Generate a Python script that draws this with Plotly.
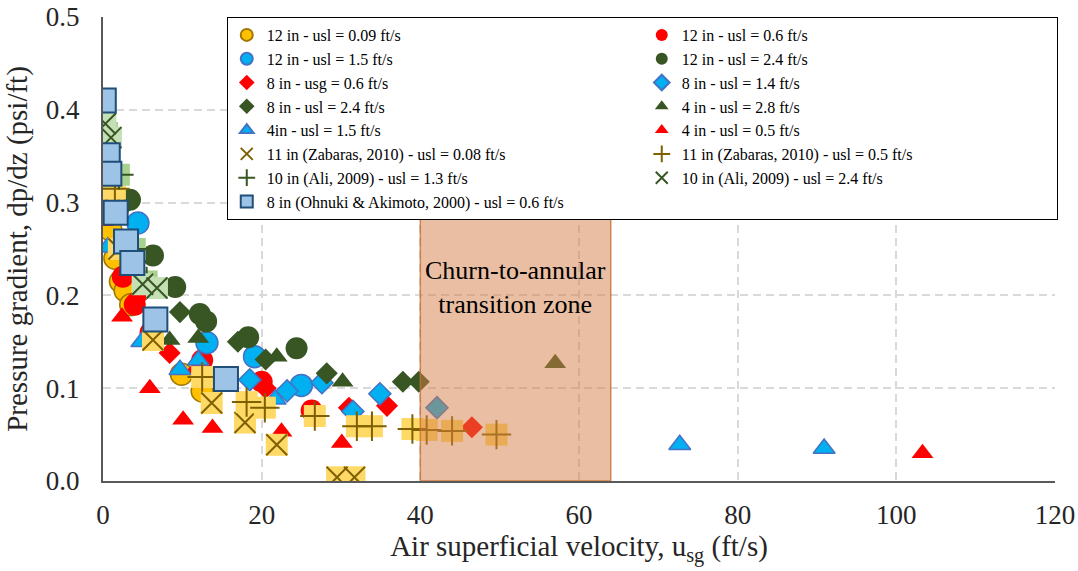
import plotly.graph_objects as go

# ---------------- data ----------------
s1_name = "12 in - usl = 0.09 ft/s"
s1_x = [0.5, 1.0, 1.5, 2.2, 2.8, 3.5, 9.9, 12.5]
s1_y = [0.32, 0.27, 0.24, 0.215, 0.205, 0.19, 0.115, 0.097]

s2_name = "12 in - usl = 0.6 ft/s"
s2_x = [2.5, 4.0, 6.0, 12.5, 20.0, 26.3]
s2_y = [0.22, 0.19, 0.16, 0.13, 0.107, 0.076]

s3_name = "12 in - usl = 1.5 ft/s"
s3_x = [2.0, 4.4, 13.1, 19.1, 25.0]
s3_y = [0.30, 0.278, 0.149, 0.134, 0.103]

s4_name = "12 in - usl = 2.4 ft/s"
s4_x = [1.5, 3.4, 6.3, 9.1, 12.2, 13.0, 18.3, 24.4]
s4_y = [0.33, 0.303, 0.243, 0.209, 0.18, 0.172, 0.155, 0.143]

s5_name = "8 in - usg = 0.6 ft/s"
s5_x = [4.4, 8.4, 12.0, 20.5, 31.0, 35.8, 46.5]
s5_y = [0.198, 0.138, 0.12, 0.1, 0.079, 0.081, 0.058]

s6_name = "8 in - usl = 1.4 ft/s"
s6_x = [18.5, 23.2, 27.6, 31.5, 34.9, 42.1]
s6_y = [0.109, 0.097, 0.106, 0.075, 0.094, 0.079]

s7_name = "8 in - usl = 2.4 ft/s"
s7_x = [3.0, 9.7, 17.0, 20.5, 28.2, 37.8, 39.8]
s7_y = [0.30, 0.182, 0.15, 0.131, 0.116, 0.107, 0.107]

s8_name = "4 in - usl = 2.8 ft/s"
s8_x = [8.4, 12.0, 21.9, 30.2, 57.0]
s8_y = [0.152, 0.154, 0.134, 0.107, 0.127]

s9_name = "4in - usl = 1.5 ft/s"
s9_x = [0.6, 4.9, 9.7, 12.0, 21.7, 72.7, 90.9]
s9_y = [0.252, 0.15, 0.12, 0.13, 0.088, 0.039, 0.035]

s10_name = "4 in - usl = 0.5 ft/s"
s10_x = [0.0, 2.4, 5.9, 10.1, 13.8, 22.5, 30.1, 103.3]
s10_y = [0.28, 0.177, 0.1, 0.066, 0.057, 0.053, 0.041, 0.03]

s11_name = "11 in (Zabaras, 2010) - usl = 0.08 ft/s"
s11_x = [1.2, 2.0, 6.3, 13.7, 17.9, 21.9, 29.5, 31.7]
s11_y = [0.31, 0.25, 0.152, 0.084, 0.063, 0.039, 0.004, 0.004]

s12_name = "11 in (Zabaras, 2010) - usl = 0.5 ft/s"
s12_x = [1.5, 12.5, 18.1, 20.4, 26.7, 32.0, 33.9, 39.0, 40.8, 44.0, 49.6]
s12_y = [0.315, 0.112, 0.085, 0.079, 0.07, 0.059, 0.059, 0.056, 0.055, 0.054, 0.05]

s13_name = "10 in (Ali, 2009) - usl = 1.3 ft/s"
s13_x = [0.5, 2.0, 4.0, 5.5]
s13_y = [0.375, 0.33, 0.25, 0.215]

s14_name = "10 in (Ali, 2009) - usl = 2.4 ft/s"
s14_x = [0.3, 1.0, 5.0, 6.8]
s14_y = [0.385, 0.37, 0.212, 0.208]

s15_name = "8 in (Ohnuki & Akimoto, 2000) - usl = 0.6 ft/s"
s15_x = [0.1, 0.6, 0.8, 1.6, 2.9, 3.7, 6.6, 15.5]
s15_y = [0.41, 0.351, 0.331, 0.289, 0.258, 0.235, 0.174, 0.11]

x_ticks = [0, 20, 40, 60, 80, 100, 120]
y_ticks = [0.0, 0.1, 0.2, 0.3, 0.4, 0.5]

zone_x = [40, 64]
zone_top = 0.29
zone_label = "Churn-to-annular<br>transition zone"

SERIF = "Liberation Serif, Times New Roman, serif"

# ---------------- figure ----------------
fig = go.Figure()

def simple(name, xs, ys, symbol, size, fill, line, lw):
    fig.add_trace(go.Scatter(
        x=xs, y=ys, mode="markers", name=name,
        marker=dict(symbol=symbol, size=size, color=fill,
                    line=dict(color=line, width=lw))))

def hatched(name, xs, ys, fill, inner, mark):
    fig.add_trace(go.Scatter(
        x=xs, y=ys, mode="markers", name=name, showlegend=False,
        legendgroup=name,
        marker=dict(symbol="square", size=22, color=fill,
                    line=dict(width=0))))
    fig.add_trace(go.Scatter(
        x=xs, y=ys, mode="markers", name=name, legendgroup=name,
        marker=dict(symbol=mark, size=21, color=inner,
                    line=dict(color=inner, width=2))))

simple(s1_name, s1_x, s1_y, "circle", 22, "#FFC000", "#A07800", 1.5)
simple(s2_name, s2_x, s2_y, "circle", 22, "#FF0000", "#FF0000", 0)
simple(s3_name, s3_x, s3_y, "circle", 22, "#00B0F0", "#4472C4", 1.5)
simple(s4_name, s4_x, s4_y, "circle", 22, "#375623", "#375623", 0)
simple(s5_name, s5_x, s5_y, "diamond", 17, "#FF0000", "#FF0000", 0)
simple(s6_name, s6_x, s6_y, "diamond", 17, "#00B0F0", "#4472C4", 1.5)
simple(s7_name, s7_x, s7_y, "diamond", 17, "#375623", "#375623", 0)
simple(s8_name, s8_x, s8_y, "triangle-up", 19, "#375623", "#375623", 0)
simple(s9_name, s9_x, s9_y, "triangle-up", 19, "#00B0F0", "#4472C4", 1.5)
simple(s10_name, s10_x, s10_y, "triangle-up", 19, "#FF0000", "#FF0000", 0)
hatched(s11_name, s11_x, s11_y, "#FFD966", "#7F6000", "x-thin-open")
hatched(s12_name, s12_x, s12_y, "#FFD966", "#7F6000", "cross-thin-open")
hatched(s13_name, s13_x, s13_y, "#A9D18E", "#375623", "cross-thin-open")
hatched(s14_name, s14_x, s14_y, "#C5E0B4", "#375623", "x-thin-open")
simple(s15_name, s15_x, s15_y, "square", 24, "#9DC3E6", "#1F4E79", 2)

fig.add_shape(type="rect", xref="x", yref="y",
              x0=zone_x[0], x1=zone_x[1], y0=0, y1=zone_top,
              fillcolor="rgba(214,125,70,0.5)",
              line=dict(color="rgba(200,110,50,0.8)", width=1.5),
              layer="above")
fig.add_annotation(x=(zone_x[0] + zone_x[1]) / 2, y=0.208,
                   text=zone_label, showarrow=False,
                   font=dict(family=SERIF, size=26, color="black"))

axis_font = dict(family=SERIF, size=27, color="#262626")
title_font = dict(family=SERIF, size=29, color="#262626")
fig.update_layout(
    width=1078, height=571,
    margin=dict(l=103, r=23, t=17, b=90),
    paper_bgcolor="white", plot_bgcolor="white",
    font=dict(family=SERIF, color="black"),
    showlegend=True,
    legend=dict(orientation="h", x=0.13, xanchor="left", y=1.0, yanchor="top",
                entrywidth=370, entrywidthmode="pixels",
                bgcolor="white", bordercolor="black", borderwidth=1,
                font=dict(family=SERIF, size=16, color="black"),
                itemsizing="constant", tracegroupgap=0),
    xaxis=dict(range=[0, 120], tickvals=x_ticks, ticks="", automargin=False,
               showgrid=True, gridcolor="#D9D9D9", griddash="8px,5px", gridwidth=1.5,
               showline=True, linecolor="#595959", linewidth=2, zeroline=False,
               tickfont=axis_font, ticklabelstandoff=9,
               title=dict(text="Air superficial velocity, u<sub>sg</sub> (ft/s)",
                          font=title_font, standoff=6)),
    yaxis=dict(range=[0, 0.5], tickvals=y_ticks, tickformat=".1f", ticks="", automargin=False,
               showgrid=True, gridcolor="#D9D9D9", griddash="8px,5px", gridwidth=1.5,
               showline=True, linecolor="#595959", linewidth=2, zeroline=False,
               tickfont=axis_font, ticklabelstandoff=16,
               title=dict(text="Pressure gradient, dp/dz (psi/ft)",
                          font=title_font, standoff=10)),
)

fig.write_html("out.html", config={"displayModeBar": False},
               post_script="document.body.style.margin='0px';")
